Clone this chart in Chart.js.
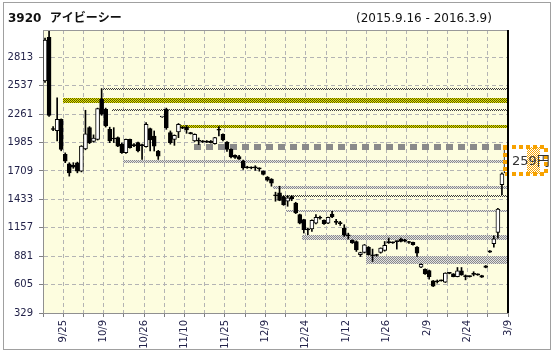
<!DOCTYPE html>
<html>
<head>
<meta charset="utf-8">
<script src="https://cdn.jsdelivr.net/npm/chart.js@4"></script>
<style>
  html, body { margin: 0; padding: 0; background: #fff; }
  #wrap { width: 555px; height: 364px; }
</style>
</head>
<body>
<div id="wrap"><canvas id="chart" width="555" height="364"></canvas></div>
<script>
const title = '3920  アイビーシー';
const period = '(2015.9.16 - 2016.3.9)';

const dates = [
  '9/16','9/17','9/18','9/24','9/25','9/28','9/29','9/30',
  '10/1','10/2','10/5','10/6','10/7','10/8','10/9','10/13','10/14','10/15','10/16','10/19','10/20','10/21','10/22','10/23','10/26','10/27','10/28','10/29','10/30',
  '11/2','11/4','11/5','11/6','11/9','11/10','11/11','11/12','11/13','11/16','11/17','11/18','11/19','11/20','11/24','11/25','11/26','11/27','11/30',
  '12/1','12/2','12/3','12/4','12/7','12/8','12/9','12/10','12/11','12/14','12/15','12/16','12/17','12/18','12/21','12/22','12/24','12/25','12/28','12/29','12/30',
  '1/4','1/5','1/6','1/7','1/8','1/12','1/13','1/14','1/15','1/18','1/19','1/20','1/21','1/22','1/25','1/26','1/27','1/28','1/29',
  '2/1','2/2','2/3','2/4','2/5','2/8','2/9','2/10','2/12','2/15','2/16','2/17','2/18','2/19','2/22','2/23','2/24','2/25','2/26','2/29',
  '3/1','3/2','3/3','3/4','3/7','3/8','3/9'
];

const opens = [
  2585,3008,2116,2100,2211,1870,1779,1765,1789,1707,1923,2130,1996,2016,2406,2309,2114,2025,2033,1967,
  1886,2016,1960,1984,1960,1945,2120,2049,1903,2234,2309,2081,2016,2088,2130,2136,2080,2000,2000,1995,
  1996,2000,1974,2107,2065,1990,1919,1860,1850,1805,1745,1742,1743,1735,1707,1650,1630,1472,1496,1457,
  1415,1460,1398,1285,1236,1140,1145,1203,1252,1229,1203,1290,1215,1200,1155,1082,1034,1024,895,917,
  966,887,893,917,937,1017,1018,1026,1047,1040,1018,1015,969,774,754,742,641,637,646,628,
  718,709,683,738,685,685,708,706,693,787,933,1002,1112,1575,1690
];
const highs = [
  3000,3079,2140,2420,2215,1885,1789,1790,1795,1955,2299,2140,2060,2320,2510,2320,2135,2130,2040,1980,
  2020,2020,1975,1990,1970,2180,2125,2098,1910,2240,2320,2098,2060,2170,2140,2150,2085,2070,2030,2005,
  2005,2005,2035,2140,2070,1995,1925,1865,1860,1815,1755,1750,1760,1740,1710,1655,1635,1503,1561,1465,
  1470,1470,1405,1290,1240,1155,1235,1285,1270,1235,1262,1317,1240,1220,1187,1105,1040,1030,920,995,
  975,950,900,962,1024,1057,1020,1030,1057,1045,1025,1018,975,806,758,745,645,650,650,720,
  722,712,771,771,699,690,730,710,696,790,936,1080,1345,1690,1950
];
const lows = [
  2570,2240,2100,2000,1905,1790,1659,1735,1691,1700,1915,1975,1990,2010,2250,2136,1984,1985,1945,1880,
  1880,1930,1945,1895,1821,1940,1903,1903,1821,2230,2114,1970,1958,2033,2120,2075,2068,1995,1965,1985,
  1985,1980,1970,2049,2000,1900,1837,1830,1821,1724,1735,1730,1715,1707,1670,1610,1561,1415,1420,1375,
  1366,1420,1295,1195,1106,1090,1122,1195,1240,1190,1197,1255,1190,1180,1073,1047,1005,927,878,912,
  890,830,880,910,930,1005,1005,950,1020,1020,1005,988,878,770,705,657,586,620,638,625,
  710,680,680,695,651,678,690,695,674,768,917,969,1057,1480,1682
];
const closes = [
  2982,2250,2112,2210,1919,1805,1691,1745,1707,1951,2069,1984,2029,2315,2260,2146,2000,2020,1951,1886,
  2016,1935,1955,1903,1955,2163,2010,1951,1854,2237,2130,1984,2055,2163,2125,2107,2072,2065,1998,1993,
  1990,1985,2033,2105,2010,1919,1845,1840,1825,1740,1740,1738,1740,1730,1675,1620,1590,1468,1424,1382,
  1447,1437,1301,1203,1138,1136,1229,1258,1250,1197,1258,1262,1210,1197,1085,1078,1010,943,917,992,
  895,884,888,959,986,1013,1010,1022,1024,1026,1014,992,911,803,709,683,590,633,642,716,
  714,683,738,699,682,682,704,700,677,771,920,1050,1340,1682,1941
];

const yMin = 329;
const yStep = 276;
const gridEvery = 5;
const labelEvery = 10;
const labelFirst = 4;

// price zones drawn across to the right edge
const bandStart = [14.3, 4.4, 16.6, 33.4, 19.3, 56.5, 57.3, 59.6, 63.5, 79.4];
const bandLow   = [2507, 2374, 2300, 2130, 1788, 1536, 1468, 1307, 1041, 804];
const bandHigh  = [2517, 2423, 2310, 2156, 1811, 1567, 1478, 1333, 1090, 885];
const bandKind  = ['dot', 'olive', 'dot', 'olive', 'gray', 'gray', 'dot', 'gray', 'gray', 'gray'];
const priceLineFrom = 36.8;

const FONT = "'DejaVu Sans', 'Noto Sans CJK JP', sans-serif";
const TEXT = '#23234a';

const wickData = dates.map((d, i) => ({ x: i, y: [lows[i], highs[i]] }));
const bodyData = dates.map((d, i) => ({ x: i, y: [opens[i], closes[i]] }));
const bodyColors = dates.map((d, i) => closes[i] >= opens[i] ? '#ffffff' : '#000000');

function checker(ctx, a, b) {
  const c = document.createElement('canvas');
  c.width = 2; c.height = 2;
  const p = c.getContext('2d');
  if (b) { p.fillStyle = b; p.fillRect(0, 0, 2, 2); }
  p.fillStyle = a;
  p.fillRect(0, 0, 1, 1);
  p.fillRect(1, 1, 1, 1);
  return ctx.createPattern(c, 'repeat');
}

let patterns = null;

const decor = {
  id: 'decor',
  beforeDraw(chart) {
    const { ctx, chartArea: a } = chart;
    if (!patterns) {
      patterns = {
        dot: checker(ctx, '#3a3a3a', null),
        olive: checker(ctx, '#5a5a00', '#e6e600'),
        gray: checker(ctx, '#8a8a8a', '#e2e2e2'),
        orange: checker(ctx, '#f7a200', null)
      };
    }
    ctx.save();
    ctx.fillStyle = '#fff';
    ctx.fillRect(0, 0, chart.width, chart.height);
    ctx.strokeStyle = '#a0a0a0';
    ctx.lineWidth = 1;
    ctx.strokeRect(3.5, 2.5, 547, 347);
    ctx.fillStyle = '#fdfddf';
    ctx.fillRect(a.left, a.top, a.right - a.left, a.bottom - a.top);
    ctx.fillStyle = '#111';
    ctx.textBaseline = 'alphabetic';
    ctx.font = 'bold 12px ' + FONT;
    ctx.fillText(title, 8, 22);
    ctx.font = '12px ' + FONT;
    ctx.fillText(period, 356, 22);
    ctx.restore();
  },
  beforeDatasetsDraw(chart) {
    const { ctx, chartArea: a, scales: { x, y } } = chart;
    ctx.save();
    ctx.beginPath();
    ctx.rect(a.left, a.top, a.right - a.left, a.bottom - a.top);
    ctx.clip();
    bandStart.forEach((s, k) => {
      const x0 = Math.round(x.getPixelForValue(s));
      const yt = Math.round(y.getPixelForValue(bandHigh[k]));
      let yb = Math.round(y.getPixelForValue(bandLow[k]));
      if (yb - yt < 2) yb = yt + 2;
      ctx.fillStyle = patterns[bandKind[k]];
      ctx.fillRect(x0, yt, a.right - x0, yb - yt);
    });
    const last = closes.length - 1;
    const py = Math.round(y.getPixelForValue(closes[last]));
    ctx.strokeStyle = '#8a8a8a';
    ctx.lineWidth = 6;
    ctx.setLineDash([7, 5]);
    ctx.beginPath();
    ctx.moveTo(Math.round(x.getPixelForValue(priceLineFrom)), py);
    ctx.lineTo(x.getPixelForValue(last - 0.5), py);
    ctx.stroke();
    ctx.restore();
  },
  afterDatasetsDraw(chart) {
    const { ctx, scales: { x, y } } = chart;
    const last = closes.length - 1;
    const change = closes[last] - closes[last - 1];
    const left = Math.round(x.getPixelForValue(last - 0.5)) + 1;
    const right = left + 41;
    const top = Math.round(y.getPixelForValue(closes[last]));
    const bot = Math.round(y.getPixelForValue(closes[last - 1]));
    ctx.save();
    ctx.fillStyle = patterns.orange;
    ctx.fillRect(left + 22, top, 13, bot - top);
    ctx.strokeStyle = '#f7a200';
    ctx.lineWidth = 4;
    ctx.setLineDash([4, 3]);
    ctx.strokeRect(left, top, right - left, bot - top);
    ctx.setLineDash([]);
    ctx.fillStyle = '#333';
    ctx.font = '13px ' + FONT;
    ctx.textBaseline = 'middle';
    ctx.fillText(change + '円', left + 7, (top + bot) / 2 + 1);
    ctx.restore();
  },
  afterDraw(chart) {
    const { ctx, chartArea: a } = chart;
    ctx.save();
    ctx.strokeStyle = '#999';
    ctx.lineWidth = 1;
    ctx.beginPath();
    ctx.moveTo(a.left, a.top + 0.5);
    ctx.lineTo(a.right, a.top + 0.5);
    ctx.stroke();
    ctx.strokeStyle = '#000';
    ctx.lineWidth = 2;
    ctx.beginPath();
    ctx.moveTo(a.right, a.top);
    ctx.lineTo(a.right, a.bottom);
    ctx.stroke();
    ctx.restore();
  }
};

new Chart(document.getElementById('chart'), {
  type: 'bar',
  data: {
    datasets: [
      { data: wickData, barThickness: 1, backgroundColor: '#000', grouped: false, order: 2 },
      {
        data: bodyData, barThickness: 4, backgroundColor: bodyColors, borderColor: '#000',
        borderWidth: 1, borderSkipped: false, minBarLength: 1, grouped: false, order: 1
      }
    ]
  },
  options: {
    responsive: false,
    animation: false,
    devicePixelRatio: 1,
    layout: { padding: { left: 0, top: 30, right: 47, bottom: 0 } },
    plugins: { legend: { display: false }, tooltip: { enabled: false } },
    scales: {
      x: {
        type: 'linear',
        offset: false,
        min: -0.5,
        max: dates.length - 0.5,
        afterBuildTicks(scale) {
          const t = [];
          for (let v = -0.5; v <= dates.length - 0.5; v += gridEvery) t.push({ value: v });
          scale.ticks = t;
        },
        afterFit(scale) { scale.height = 51; },
        grid: { offset: false, color: '#b4b4b4', tickColor: '#808080', tickLength: 4 },
        border: { color: '#909090', dash: [4, 3] },
        ticks: {
          autoSkip: false,
          maxRotation: 90,
          minRotation: 90,
          padding: 3,
          color: TEXT,
          font: { family: FONT, size: 10 },
          callback(value) {
            const i = value - 0.5;
            return (i - labelFirst) % labelEvery === 0 ? dates[i] : '';
          }
        }
      },
      y: {
        min: yMin,
        max: Math.max(...highs),
        afterBuildTicks(scale) {
          const t = [];
          for (let v = yMin; v <= scale.max; v += yStep) t.push({ value: v });
          scale.ticks = t;
        },
        afterFit(scale) { scale.width = 43; },
        grid: { color: '#b4b4b4', tickColor: '#808080', tickLength: 4 },
        border: { color: '#909090', dash: [4, 3] },
        ticks: {
          padding: 6,
          color: TEXT,
          font: { family: FONT, size: 10 },
          callback(value) { return String(value); }
        }
      }
    }
  },
  plugins: [decor]
});
</script>
</body>
</html>
